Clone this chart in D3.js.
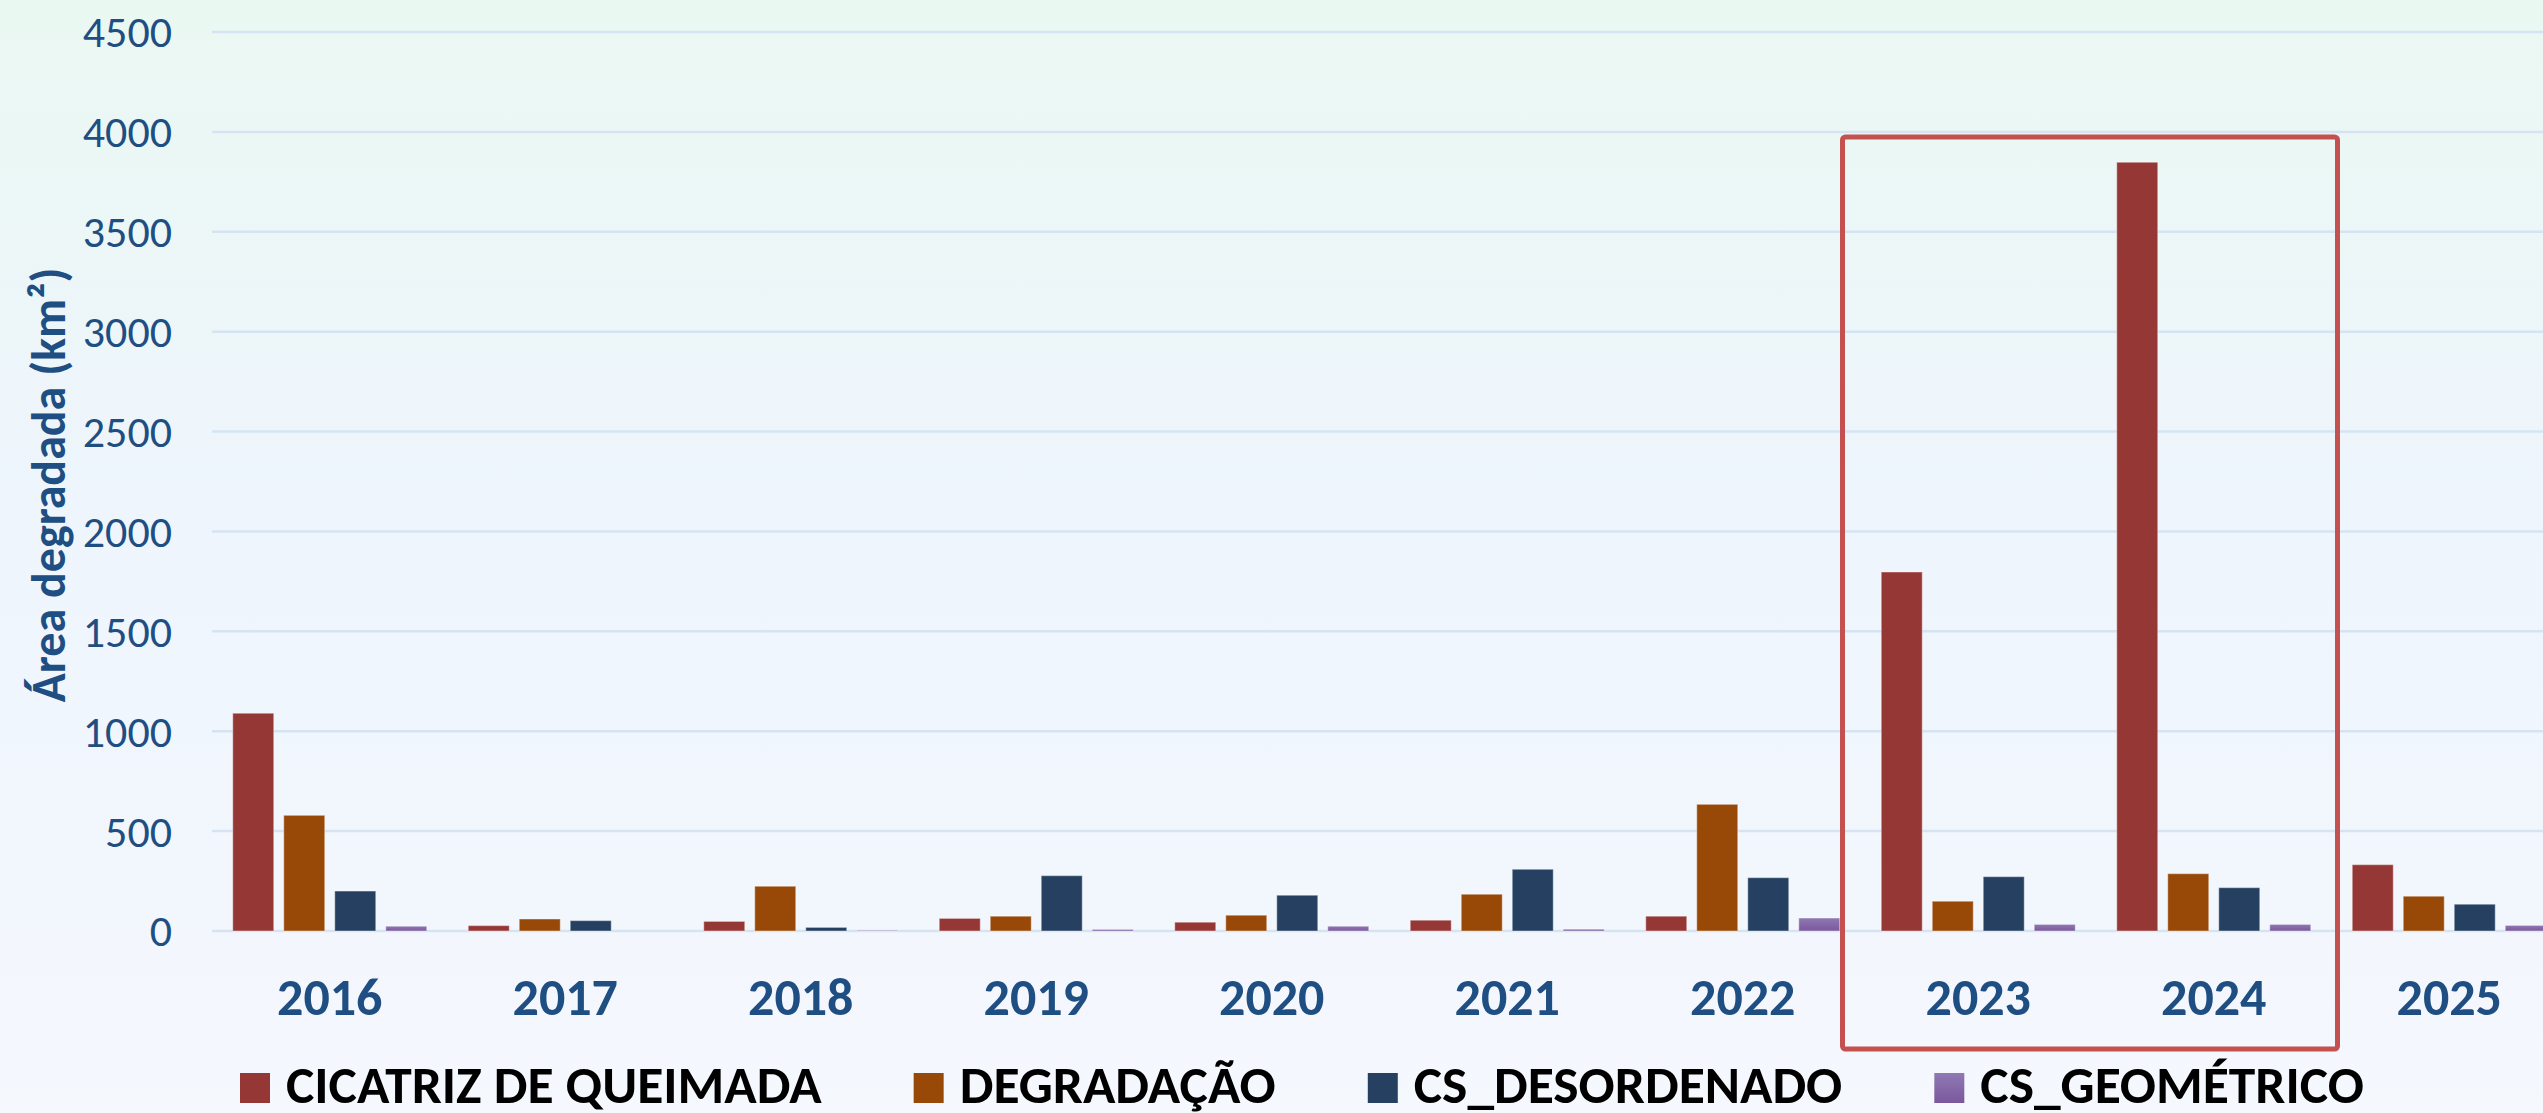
<!DOCTYPE html>
<html>
<head>
<meta charset="utf-8">
<script src="https://cdn.jsdelivr.net/npm/d3@7"></script>
<style>
  body { margin: 0; overflow: hidden; }
  text { font-family: Carlito, Calibri, "Open Sans", sans-serif; }
</style>
</head>
<body>
<div id="chart"></div>
<script>
// data
var years = ["2016", "2017", "2018", "2019", "2020", "2021", "2022", "2023", "2024", "2025"];
var seriesNames = ["CICATRIZ DE QUEIMADA", "DEGRADAÇÃO", "CS_DESORDENADO", "CS_GEOMÉTRICO"];
var cicatriz      = [1090, 27, 48, 63, 44, 54, 74, 1797, 3848, 332];
var degradacao    = [579, 60, 224, 74, 79, 184, 634, 149, 287, 174];
var csDesordenado = [200, 52, 18, 277, 179, 309, 267, 272, 217, 134];
var csGeometrico  = [24, 0, 3, 8, 24, 9, 65, 33, 33, 28];
var yTicks = [0, 500, 1000, 1500, 2000, 2500, 3000, 3500, 4000, 4500];
var highlightYears = ["2023", "2024"];

var W = 2543, H = 1113;
var plotLeft = 212, plotTop = 32, plotBottom = 931;
var step = 235.5;

var colors = ["#953735", "#984807", "#254061", "url(#purpleGrad)"];
var allSeries = [cicatriz, degradacao, csDesordenado, csGeometrico];

var rows = years.map(function (y, i) {
    return { year: y, values: allSeries.map(function (s, k) { return { key: k, value: s[i] }; }) };
});

var svg = d3.select("#chart").append("svg")
    .attr("width", W)
    .attr("height", H);

var defs = svg.append("defs");
var bg = defs.append("linearGradient").attr("id", "bgGrad")
    .attr("x1", 0).attr("y1", 0).attr("x2", 0).attr("y2", 1);
bg.append("stop").attr("offset", "0%").attr("stop-color", "#eaf8f2");
bg.append("stop").attr("offset", "45%").attr("stop-color", "#eef5fd");
bg.append("stop").attr("offset", "100%").attr("stop-color", "#f5f8fd");

var pg = defs.append("linearGradient").attr("id", "purpleGrad")
    .attr("x1", 0).attr("y1", 0).attr("x2", 0).attr("y2", 1);
pg.append("stop").attr("offset", "0%").attr("stop-color", "#9079b4");
pg.append("stop").attr("offset", "100%").attr("stop-color", "#7a589c");

svg.append("rect").attr("width", W).attr("height", H).attr("fill", "url(#bgGrad)");

// scales
var x0 = d3.scaleBand()
    .domain(years)
    .range([plotLeft, plotLeft + step * years.length])
    .padding(0);

var x1 = d3.scaleBand()
    .domain([0, 1, 2, 3])
    .range([20.75, step - 20.75])
    .paddingInner(10 / 51)
    .paddingOuter(0);

var y = d3.scaleLinear()
    .domain([0, 4500])
    .range([plotBottom, plotTop]);

// gridlines
svg.append("g")
    .selectAll("line")
    .data(yTicks)
    .enter()
    .append("line")
        .attr("x1", plotLeft)
        .attr("x2", W)
        .attr("y1", function (d) { return y(d); })
        .attr("y2", function (d) { return y(d); })
        .attr("stroke", "#d5e3f3")
        .attr("stroke-width", 2.5);

// y axis (labels only)
var yAxis = svg.append("g")
    .attr("transform", "translate(" + (plotLeft - 40) + ",0)")
    .call(d3.axisLeft(y).tickValues(yTicks).tickSize(0).tickPadding(0).tickFormat(d3.format("d")));
yAxis.select(".domain").remove();
yAxis.selectAll("text")
    .attr("fill", "#1f4e82")
    .style("font-size", "44px")
    .attr("dy", "0.34em");

// y title
svg.append("text")
    .attr("transform", "translate(65," + 485 + ") rotate(-90)")
    .style("text-anchor", "middle")
    .style("font-size", "48px")
    .style("font-weight", "bold")
    .attr("fill", "#1f4e82")
    .text("Área degradada (km²)");

// bars
var groups = svg.append("g")
    .selectAll("g")
    .data(rows)
    .enter()
    .append("g")
        .attr("transform", function (d) { return "translate(" + x0(d.year) + ",0)"; });

groups.selectAll("rect")
    .data(function (d) { return d.values; })
    .enter()
    .append("rect")
        .attr("x", function (d) { return x1(d.key); })
        .attr("y", function (d) { return y(d.value); })
        .attr("width", x1.bandwidth())
        .attr("height", function (d) { return plotBottom - y(d.value); })
        .attr("fill", function (d) { return colors[d.key]; })
        .attr("stroke", "rgba(255,255,255,0.35)")
        .attr("stroke-width", function (d) { return d.value > 0 ? 1.2 : 0; });

// x axis labels
var xAxis = svg.append("g")
    .attr("transform", "translate(0," + plotBottom + ")")
    .call(d3.axisBottom(x0).tickSize(0).tickPadding(0));
xAxis.select(".domain").remove();
xAxis.selectAll("text")
    .attr("y", 84)
    .attr("dy", 0)
    .attr("fill", "#1f4e82")
    .style("font-size", "52px")
    .style("font-weight", "bold");

// highlight box around 2023-2024
svg.append("rect")
    .attr("x", x0(highlightYears[0]) - 18)
    .attr("y", y(4000) + 5)
    .attr("width", x0(highlightYears[1]) + x0.bandwidth() + 6 - (x0(highlightYears[0]) - 18))
    .attr("height", 1049 - (y(4000) + 5))
    .attr("rx", 3)
    .attr("fill", "none")
    .attr("stroke", "#c4514f")
    .attr("stroke-width", 5);

// legend
var legend = svg.append("g").attr("transform", "translate(240,1073)");
var lx = 0;
seriesNames.forEach(function (name, k) {
    legend.append("rect")
        .attr("x", lx)
        .attr("y", 0)
        .attr("width", 30)
        .attr("height", 30)
        .attr("fill", colors[k]);
    var t = legend.append("text")
        .attr("x", lx + 46)
        .attr("y", 30)
        .style("font-size", "53.5px")
        .style("font-weight", "bold")
        .attr("fill", "#000")
        .text(name);
    lx += 46 + t.node().getComputedTextLength() + 92;
});
</script>
</body>
</html>
